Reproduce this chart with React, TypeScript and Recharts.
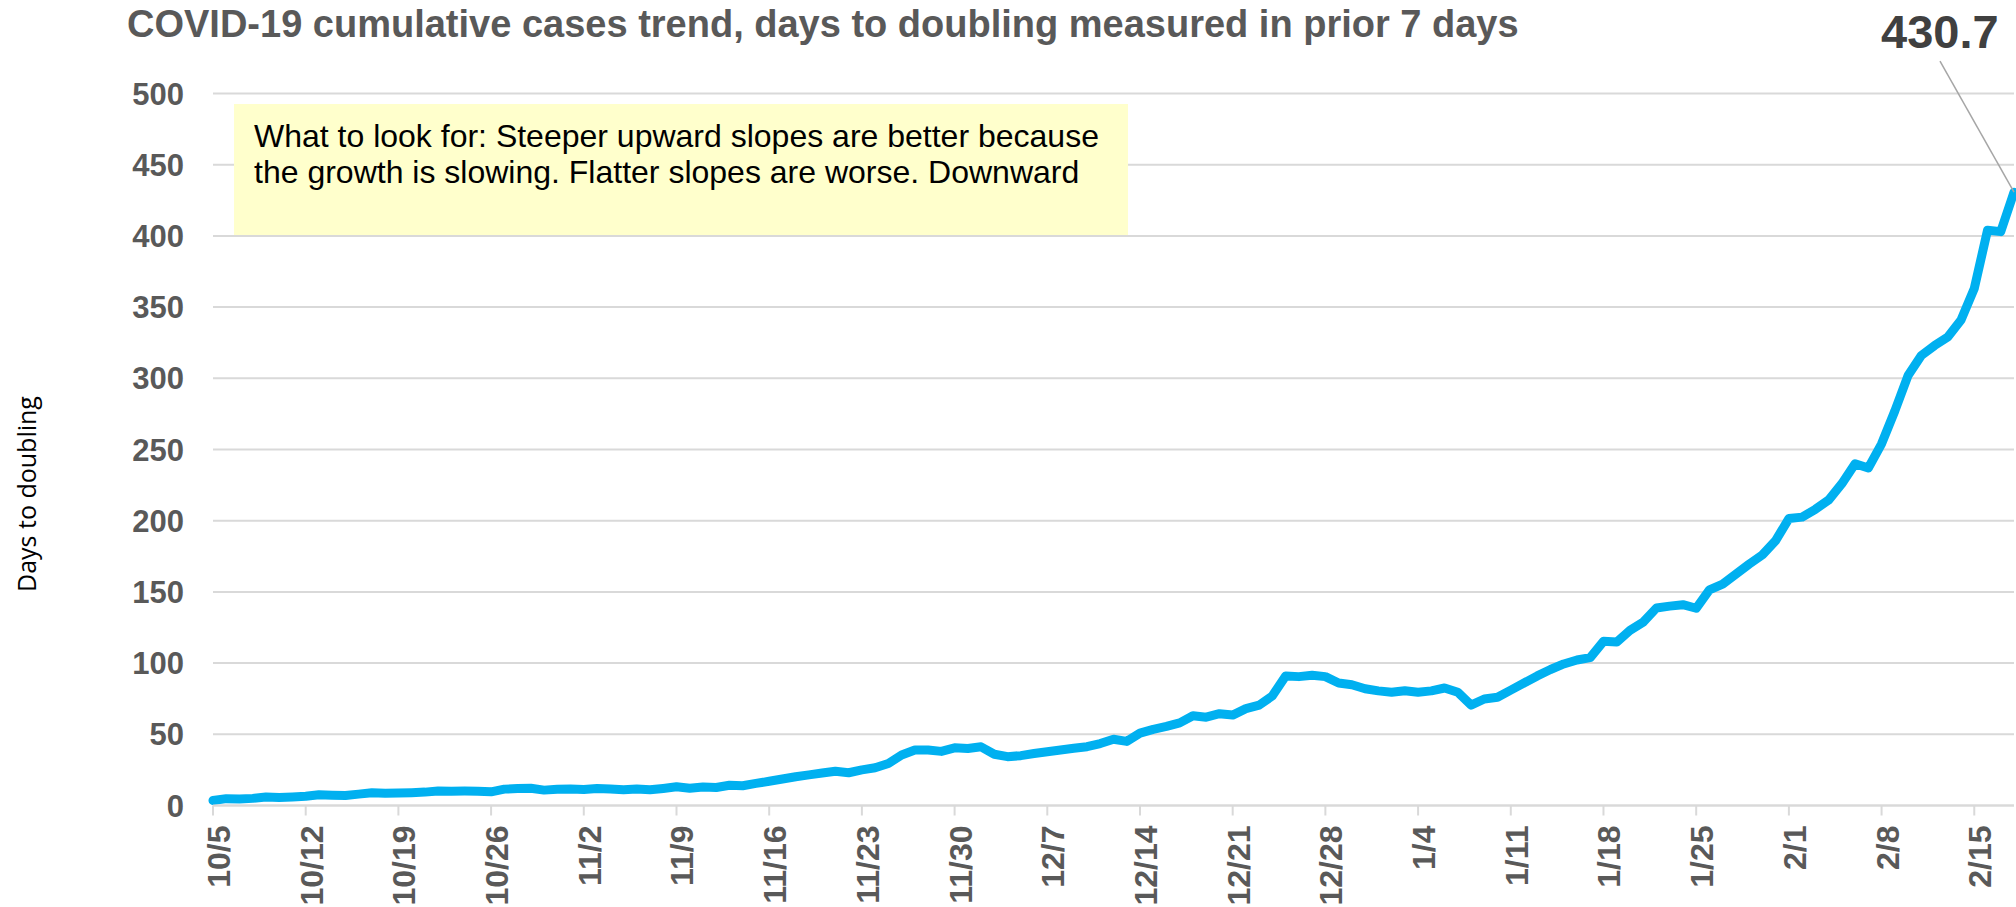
import React from "react";
import { CartesianGrid, Line, LineChart, XAxis, YAxis } from "recharts";

const dates = [
  "10/5", "10/6", "10/7", "10/8", "10/9", "10/10", "10/11", "10/12", "10/13", "10/14", "10/15", "10/16", "10/17", "10/18",
  "10/19", "10/20", "10/21", "10/22", "10/23", "10/24", "10/25", "10/26", "10/27", "10/28", "10/29", "10/30", "10/31",
  "11/1", "11/2", "11/3", "11/4", "11/5", "11/6", "11/7", "11/8", "11/9", "11/10", "11/11", "11/12", "11/13", "11/14",
  "11/15", "11/16", "11/17", "11/18", "11/19", "11/20", "11/21", "11/22", "11/23", "11/24", "11/25", "11/26", "11/27",
  "11/28", "11/29", "11/30",
  "12/1", "12/2", "12/3", "12/4", "12/5", "12/6", "12/7", "12/8", "12/9", "12/10", "12/11", "12/12", "12/13", "12/14",
  "12/15", "12/16", "12/17", "12/18", "12/19", "12/20", "12/21", "12/22", "12/23", "12/24", "12/25", "12/26", "12/27",
  "12/28", "12/29", "12/30", "12/31",
  "1/1", "1/2", "1/3", "1/4", "1/5", "1/6", "1/7", "1/8", "1/9", "1/10", "1/11", "1/12", "1/13", "1/14", "1/15",
  "1/16", "1/17", "1/18", "1/19", "1/20", "1/21", "1/22", "1/23", "1/24", "1/25", "1/26", "1/27", "1/28", "1/29",
  "1/30", "1/31",
  "2/1", "2/2", "2/3", "2/4", "2/5", "2/6", "2/7", "2/8", "2/9", "2/10", "2/11", "2/12", "2/13", "2/14", "2/15",
  "2/16", "2/17", "2/18",
];

// days to doubling, one value per day
const daysToDoubling = [
  3.5, 4.8, 4.5, 5.0, 6.0, 5.6, 6.0, 6.5, 7.5, 7.2, 7.0, 8.0, 9.0, 8.6,
  8.8, 9.0, 9.4, 10.2, 10.0, 10.1, 10.0, 9.6, 11.5, 11.9, 12.1, 10.8, 11.4,
  11.6, 11.3, 11.9, 11.6, 11.1, 11.6, 11.0, 12.0, 13.2, 12.1, 13.0, 12.6, 14.2,
  13.9, 15.5, 17.0, 18.6, 20.2, 21.5, 22.8, 24.0, 23.0, 25.0, 26.5, 29.5, 35.5,
  39.0, 39.0, 38.0, 40.5,
  40.0, 41.2, 36.0, 34.3, 35.0, 36.5, 37.8, 39.0, 40.2, 41.3, 43.5, 46.5, 45.0,
  50.8, 53.5, 55.5, 58.0, 63.0, 62.0, 64.5, 63.5, 68.0, 70.5, 77.0, 91.0, 90.5,
  91.5, 90.5, 86.0, 84.8, 82.0,
  80.5, 79.5, 80.6, 79.5, 80.5, 82.5, 79.5, 70.5, 74.8, 76.0, 81.0, 86.0, 91.0,
  95.5, 99.4, 102.2, 103.8, 115.3, 114.8, 123.0, 128.8, 138.7, 140.0, 141.0, 138.5,
  151.5, 155.5, 162.5, 169.5, 176.0, 186.0,
  201.5, 202.5, 208.0, 214.5, 226.0, 240.0, 237.0, 254.0, 277.0, 302.0, 316.0,
  323.0, 329.0, 341.0, 363.0, 404.0, 403.0, 430.7,
];

const yTicks = [0, 50, 100, 150, 200, 250, 300, 350, 400, 450, 500];

const title = "COVID-19 cumulative cases trend, days to doubling measured in prior 7 days";
const noteLines = [
  "What to look for: Steeper upward slopes are better because",
  "the growth is slowing. Flatter slopes are worse. Downward",
];

const data = dates.map((d, i) => ({ date: d, value: daysToDoubling[i] }));

const FONT = '"Liberation Sans", Arial, sans-serif';

function DateTick({ x, y, payload }: any) {
  return (
    <g transform={`translate(${x},${y})`}>
      <text
        transform="rotate(-90)"
        x={-8}
        y={0}
        dy={17}
        textAnchor="end"
        fill="#595959"
        fontFamily={FONT}
        fontWeight="bold"
        fontSize={32}
      >
        {payload.value}
      </text>
    </g>
  );
}

function LastLabel(props: any) {
  const { x, y, index, value } = props;
  if (index !== daysToDoubling.length - 1) return null;
  return (
    <g>
      <line x1={x - 74} y1={y - 131} x2={x} y2={y} stroke="#a6a6a6" strokeWidth={1.5} />
      <text x={x - 133} y={y - 144} fill="#404040" fontFamily={FONT} fontWeight="bold" fontSize={47}>
        {value}
      </text>
    </g>
  );
}

export default function App() {
  return (
    <div style={{ position: "absolute", left: 0, top: 0, width: 2016, height: 907, background: "#fff" }}>
      <LineChart
        width={2016}
        height={907}
        data={data}
        margin={{ top: 93.5, right: 2, bottom: 0, left: 0 }}
      >
        <CartesianGrid vertical={false} stroke="#d9d9d9" strokeWidth={2} />
        <XAxis
          dataKey="date"
          interval={6}
          height={101.5}
          tickSize={10}
          stroke="#d9d9d9"
          axisLine={{ stroke: "#d9d9d9", strokeWidth: 2 }}
          tickLine={{ stroke: "#d9d9d9", strokeWidth: 2 }}
          tick={<DateTick />}
        />
        <YAxis
          width={213}
          domain={[0, 500]}
          ticks={yTicks}
          axisLine={false}
          tickLine={false}
          tickSize={0}
          tickMargin={29}
          tick={{ fill: "#595959", fontFamily: FONT, fontWeight: "bold", fontSize: 31 }}
        />
        <Line
          type="linear"
          dataKey="value"
          stroke="#00b0f0"
          strokeWidth={9}
          strokeLinejoin="round"
          strokeLinecap="round"
          dot={false}
          isAnimationActive={false}
          label={<LastLabel />}
        />
      </LineChart>
      <svg
        width={2016}
        height={907}
        style={{ position: "absolute", left: 0, top: 0, pointerEvents: "none" }}
      >
        <text x={127} y={37} fill="#595959" fontFamily={FONT} fontWeight="bold" fontSize={38}>
          {title}
        </text>
        <rect x={234} y={104} width={894} height={131} fill="#ffffcc" />
        {noteLines.map((t, i) => (
          <text key={i} x={254} y={147 + i * 36} fill="#000" fontFamily={FONT} fontSize={32}>
            {t}
          </text>
        ))}
        <text
          transform="translate(27,494) rotate(-90)"
          textAnchor="middle"
          dy="0.35em"
          fill="#000"
          fontFamily='"Open Sans", sans-serif'
          fontSize={25}
        >
          Days to doubling
        </text>
      </svg>
    </div>
  );
}
